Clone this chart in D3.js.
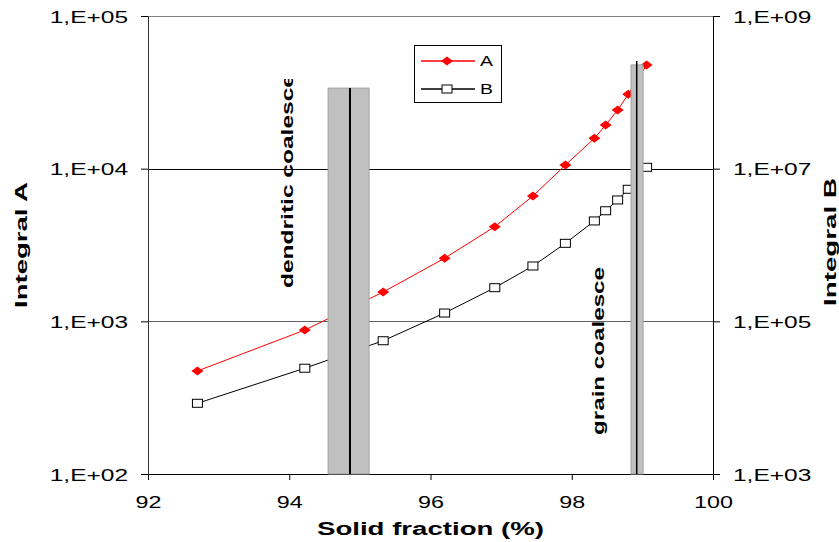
<!DOCTYPE html>
<html><head><meta charset="utf-8">
<script src="https://cdn.jsdelivr.net/npm/d3@7"></script>
<style>body{margin:0;background:#fff}svg{display:block}text{font-family:Arial,"Liberation Sans",sans-serif}</style>
</head><body>
<svg id="c" width="839" height="542"></svg>
<script>
// ---- data ----
const solidFraction = [92.70, 94.22, 95.33, 96.20, 96.91, 97.45, 97.91, 98.32, 98.48, 98.65, 98.80, 99.06];
const integralA = [473, 877, 1556, 2590, 4170, 6620, 10560, 15800, 19300, 24200, 30700, 47800];
const integralB = [8440, 24300, 55700, 128500, 276000, 531000, 1052000, 2066000, 2810000, 3890000, 5370000, 10420000];
const xTicks = [92, 94, 96, 98, 100];
const leftTicks = [1e2, 1e3, 1e4, 1e5];
const rightTicks = [1e3, 1e5, 1e7, 1e9];
const zoneNames = ["dendritic coalesce", "grain coalesce"];
const zoneFrom = [94.55, 98.84];
const zoneTo = [95.13, 99.01];
const zoneLine = [94.86, 98.92];
const zoneTopA = [33700, 47800];
const seriesNames = ["A", "B"];

const svg = d3.select("#c");
const L = 148, R = 713, T = 16, B = 474;
const x = d3.scaleLinear().domain([92, 100]).range([L, R]);
const yA = d3.scaleLog().domain([1e2, 1e5]).range([B, T]);
const yB = d3.scaleLog().domain([1e3, 1e9]).range([B, T]);
const fmt = d => "1,E+" + String(Math.round(Math.log10(d))).padStart(2, "0");

function stretch(sel, factor) {
  sel.each(function () {
    const len = this.getComputedTextLength();
    d3.select(this).attr("textLength", len * factor).attr("lengthAdjust", "spacingAndGlyphs");
  });
}

// gridlines
const gridColor = {1e3: "#606060", 1e4: "#000", 1e5: "#808080"};
svg.append("g").selectAll("line").data([1e3, 1e4, 1e5]).join("line")
  .attr("x1", L).attr("x2", R).attr("y1", d => Math.round(yA(d)) + 0.5).attr("y2", d => Math.round(yA(d)) + 0.5)
  .attr("stroke", d => gridColor[d]).attr("stroke-width", 1);

// axes
const gx = svg.append("g").attr("transform", `translate(0,${B})`)
  .call(d3.axisBottom(x).tickValues(xTicks).tickSize(6).tickFormat(d3.format("d")));
const gl = svg.append("g").attr("transform", `translate(${L},0)`)
  .call(d3.axisLeft(yA).tickValues(leftTicks).tickSize(7).tickFormat(fmt));
const gr = svg.append("g").attr("transform", `translate(${R},0)`)
  .call(d3.axisRight(yB).tickValues(rightTicks).tickSize(7).tickFormat(fmt));
[gx, gl, gr].forEach(g => {
  g.select(".domain").attr("stroke", "#000");
  g.selectAll(".tick line").attr("stroke", "#000");
  g.selectAll("text").attr("font-size", 17).attr("fill", "#000")
    .attr("font-family", "Arial, 'Liberation Sans', sans-serif");
});
gl.select(".domain").attr("stroke", "#333");
gx.selectAll("text").attr("dy", null).attr("y", 34);
gl.selectAll("text").attr("x", -20).attr("dy", "0.36em");
gr.selectAll("text").attr("x", 20).attr("dy", "0.36em");
stretch(gx.selectAll("text"), 1.37);
stretch(gl.selectAll("text"), 1.44);
stretch(gr.selectAll("text"), 1.44);

// series
const ptsA = solidFraction.map((s, i) => [x(s), yA(integralA[i])]);
const ptsB = solidFraction.map((s, i) => [x(s), yB(integralB[i])]);
svg.append("path").attr("d", d3.line()(ptsA)).attr("fill", "none").attr("stroke", "#ff0000").attr("stroke-width", 1);
svg.append("path").attr("d", d3.line()(ptsB)).attr("fill", "none").attr("stroke", "#000").attr("stroke-width", 1);
const diamond = (cx, cy) => `M${cx - 6},${cy}L${cx},${cy - 4.5}L${cx + 6},${cy}L${cx},${cy + 4.5}Z`;
svg.append("g").selectAll("path").data(ptsA).join("path")
  .attr("d", d => diamond(d[0], d[1])).attr("fill", "#ff0000");
svg.append("g").selectAll("rect").data(ptsB).join("rect")
  .attr("x", d => d[0] - 5).attr("y", d => d[1] - 4).attr("width", 10).attr("height", 8)
  .attr("fill", "#fff").attr("stroke", "#000").attr("stroke-width", 1);

// zones
const zg = svg.append("g");
zoneNames.forEach((n, i) => {
  zg.append("rect").attr("x", x(zoneFrom[i])).attr("y", yA(zoneTopA[i]))
    .attr("width", x(zoneTo[i]) - x(zoneFrom[i])).attr("height", B - yA(zoneTopA[i]))
    .attr("fill", "#c0c0c0").attr("stroke", "#a0a0a0").attr("stroke-width", 1);
  zg.append("line").attr("x1", x(zoneLine[i])).attr("x2", x(zoneLine[i]))
    .attr("y1", yA(zoneTopA[i]) - (i ? 4 : 0)).attr("y2", B)
    .attr("stroke", "#000").attr("stroke-width", i ? 1.5 : 2);
});

// zone labels
svg.append("defs").append("clipPath").attr("id", "clipTop")
  .append("rect").attr("x", 0).attr("y", 79).attr("width", 839).attr("height", 463);
const labelPos = [[287, 288, 214], [598, 435, 168]];
zoneNames.forEach((n, i) => {
  const [cx, by, len] = labelPos[i];
  svg.append("text").attr("transform", `translate(${cx},${by}) rotate(-90)`)
    .attr("clip-path", i === 0 ? null : null)
    .attr("dy", "0.35em").attr("font-size", 16).attr("font-weight", "bold")
    .attr("textLength", len).attr("lengthAdjust", "spacingAndGlyphs").text(n);
});
// clip dendritic label at top
svg.selectAll("text").filter(function () { return d3.select(this).text() === zoneNames[0]; })
  .each(function () {
    const node = this;
    const g = svg.append("g").attr("clip-path", "url(#clipTop)");
    g.node().appendChild(node);
  });

// axis titles
svg.append("text").attr("x", (L + R) / 2).attr("y", 535).attr("text-anchor", "middle")
  .attr("font-size", 18).attr("font-weight", "bold")
  .attr("textLength", 227).attr("lengthAdjust", "spacingAndGlyphs").text("Solid fraction (%)");
svg.append("text").attr("transform", `translate(21,${(T + B) / 2}) rotate(-90)`).attr("text-anchor", "middle")
  .attr("dy", "0.35em").attr("font-size", 17).attr("font-weight", "bold")
  .attr("textLength", 126).attr("lengthAdjust", "spacingAndGlyphs").text("Integral A");
svg.append("text").attr("transform", `translate(830,${(T + B) / 2 - 3}) rotate(-90)`).attr("text-anchor", "middle")
  .attr("dy", "0.35em").attr("font-size", 17).attr("font-weight", "bold")
  .attr("textLength", 128).attr("lengthAdjust", "spacingAndGlyphs").text("Integral B");

// legend
const lg = svg.append("g");
lg.append("rect").attr("x", 414.5).attr("y", 45.5).attr("width", 87).attr("height", 57)
  .attr("fill", "#fff").attr("stroke", "#000").attr("stroke-width", 1);
seriesNames.forEach((n, i) => {
  const yy = i ? 89 : 61;
  lg.append("line").attr("x1", 421).attr("x2", 475).attr("y1", yy).attr("y2", yy)
    .attr("stroke", i ? "#000" : "#ff0000").attr("stroke-width", i ? 1.5 : 1.5);
  if (i === 0) lg.append("path").attr("d", diamond(447, yy)).attr("fill", "#ff0000");
  else lg.append("rect").attr("x", 442).attr("y", yy - 4).attr("width", 10).attr("height", 8)
    .attr("fill", "#fff").attr("stroke", "#000");
  lg.append("text").attr("x", 480).attr("y", yy + 5).attr("font-size", 14)
    .attr("textLength", 13).attr("lengthAdjust", "spacingAndGlyphs").text(n);
});
</script>
</body></html>
